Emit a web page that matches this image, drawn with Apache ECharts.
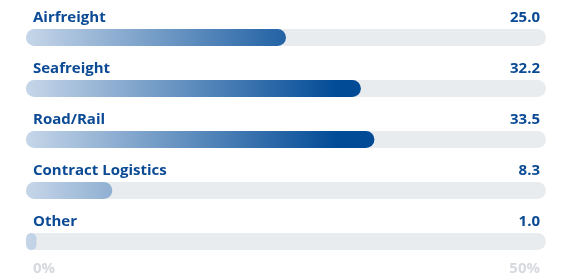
<!DOCTYPE html>
<html>
<head>
<meta charset="utf-8">
<script src="https://cdn.jsdelivr.net/npm/echarts@6/dist/echarts.min.js"></script>
<style>
  html, body { margin: 0; padding: 0; background: #fff; }
</style>
</head>
<body>
<div id="main" style="width: 568px;height:276px;"></div>

<script type="text/javascript">
    // data
    var categories = ['Airfreight', 'Seafreight', 'Road/Rail', 'Contract Logistics', 'Other'];
    var values = [25.0, 32.2, 33.5, 8.3, 1.0];
    var axisMax = 50;

    var myChart = echarts.init(document.getElementById('main'));

    var blue = '#0b4a94';

    var option = {
        animation: false,
        textStyle: { fontFamily: 'Open Sans' },
        grid: { left: 26, right: 22, top: 12, bottom: 8 },
        xAxis: {
            type: 'value',
            min: 0,
            max: axisMax,
            interval: axisMax,
            splitLine: { show: false },
            axisLine: { show: false },
            axisTick: { show: false },
            axisLabel: {
                margin: -6,
                color: '#d6d9dd',
                fontSize: 15,
                fontWeight: 'bold',
                alignMinLabel: 'left',
                alignMaxLabel: 'right',
                padding: [0, 6, 0, 7],
                formatter: '{value}%'
            }
        },
        yAxis: {
            type: 'category',
            data: categories,
            inverse: true,
            show: false
        },
        series: [{
            type: 'bar',
            data: values,
            barWidth: 17,
            showBackground: true,
            backgroundStyle: {
                color: '#e9ecef',
                borderRadius: 8.5
            },
            itemStyle: {
                borderRadius: 8.5,
                // gradient is fixed to the plot, so short bars stay light
                color: new echarts.graphic.LinearGradient(26, 0, 340, 0, [
                    { offset: 0, color: '#c6d6e9' },
                    { offset: 1, color: '#004a96' }
                ], true)
            },
            label: {
                show: true,
                position: [7, -19],
                formatter: function (p) {
                    return '{n|' + p.name + '}{v|' + p.value.toFixed(1) + '}';
                },
                rich: {
                    n: { width: 440, align: 'left', color: blue, fontSize: 15, fontWeight: 'bold', fontFamily: 'Open Sans' },
                    v: { width: 67, align: 'right', color: blue, fontSize: 15, fontWeight: 'bold', fontFamily: 'Open Sans' }
                }
            }
        }]
    };

    myChart.setOption(option);
</script>
</body>
</html>
